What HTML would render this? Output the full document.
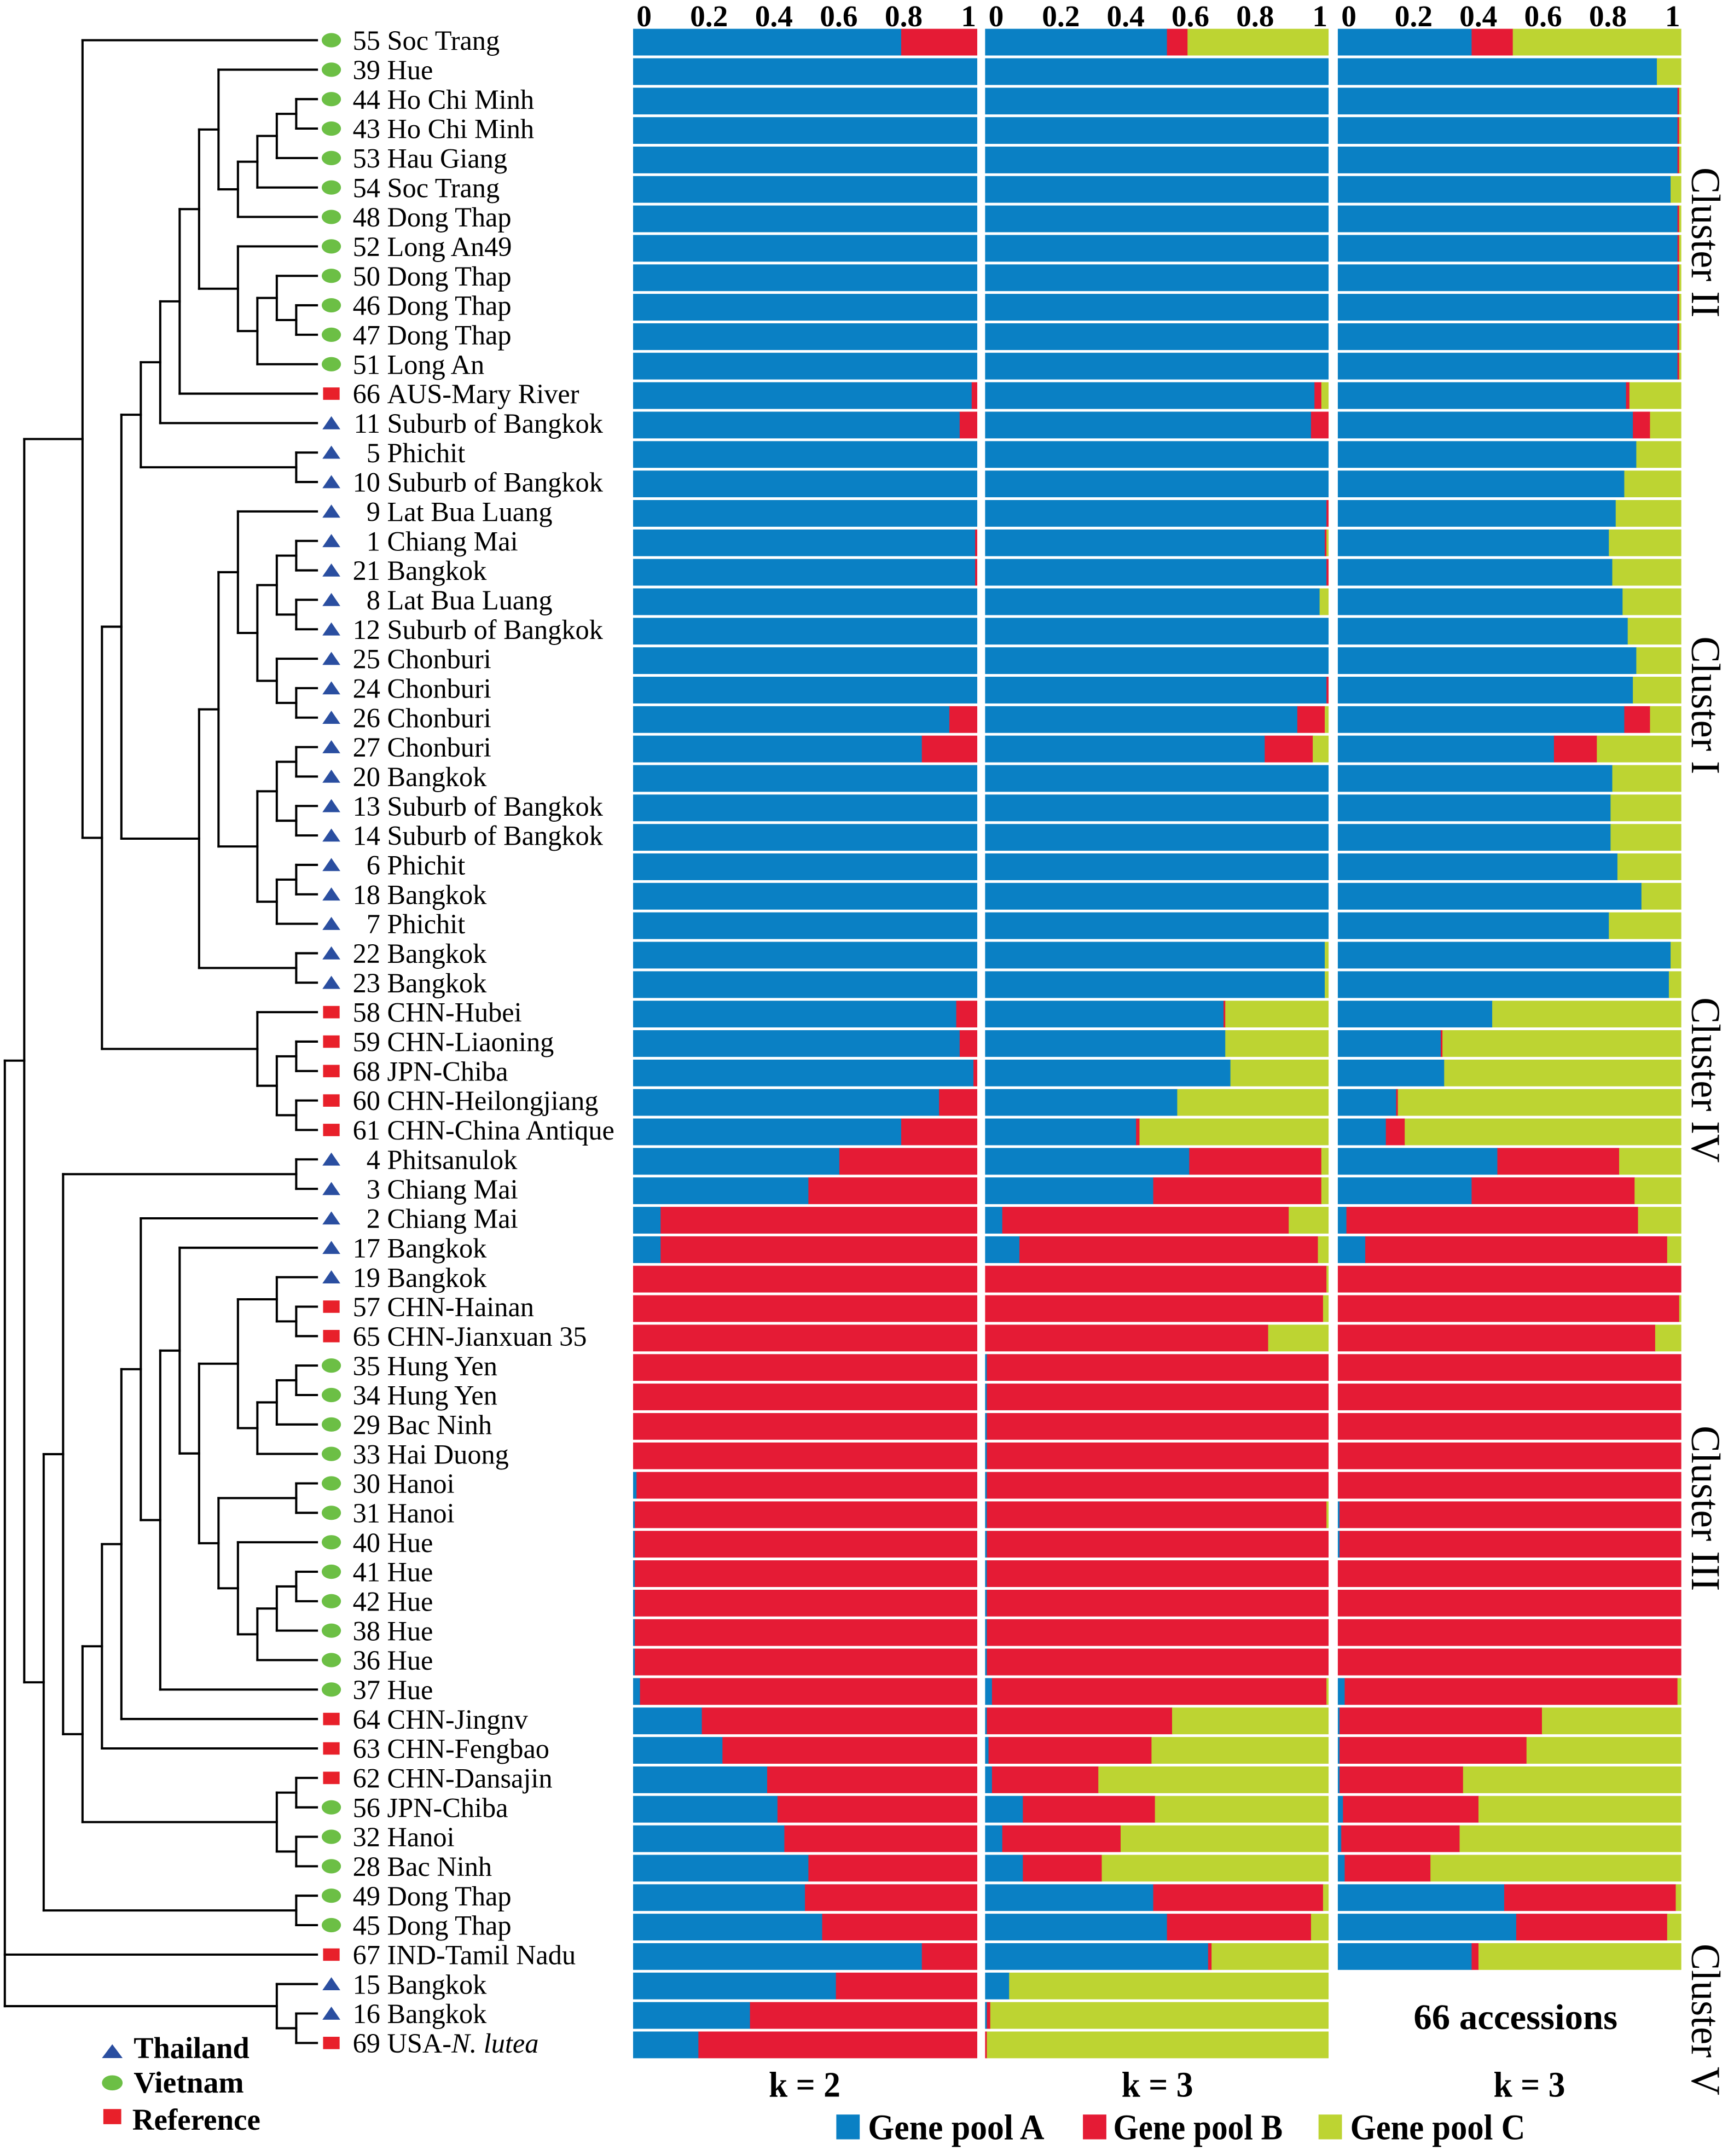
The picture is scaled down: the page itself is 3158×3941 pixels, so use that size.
<!DOCTYPE html>
<html><head><meta charset="utf-8"><title>Dendrogram and STRUCTURE plots</title>
<style>html,body{margin:0;padding:0;background:#fff}svg{display:block}</style></head>
<body>
<svg id="chart" xmlns="http://www.w3.org/2000/svg" width="3158" height="3941" viewBox="0 0 1254.2 1565.1" preserveAspectRatio="none">
<rect x="0" y="0" width="1254.2" height="1565.1" fill="#fff"/>
<g id="dendro"></g>
<g id="markers"></g>
<g id="labels" font-family="'Liberation Serif', serif" font-size="20" fill="#000"></g>
<g id="bars"></g>
<g id="ticks" font-family="'Liberation Serif', serif" font-weight="bold" font-size="22" fill="#000"></g>
<g font-family="'Liberation Serif', serif" font-size="30" fill="#000">
<text transform="translate(1228,176) rotate(90)" text-anchor="middle" textLength="109" lengthAdjust="spacingAndGlyphs">Cluster II</text>
<text transform="translate(1228,512) rotate(90)" text-anchor="middle" textLength="100" lengthAdjust="spacingAndGlyphs">Cluster I</text>
<text transform="translate(1228,784) rotate(90)" text-anchor="middle" textLength="120" lengthAdjust="spacingAndGlyphs">Cluster IV</text>
<text transform="translate(1228,1095) rotate(90)" text-anchor="middle" textLength="120" lengthAdjust="spacingAndGlyphs">Cluster III</text>
<text transform="translate(1228,1466) rotate(90)" text-anchor="middle" textLength="110" lengthAdjust="spacingAndGlyphs">Cluster V</text>
</g>
<g font-family="'Liberation Serif', serif" font-weight="bold" font-size="26" fill="#000">
<text x="584" y="1522" text-anchor="middle" textLength="52" lengthAdjust="spacingAndGlyphs">k = 2</text>
<text x="840" y="1522" text-anchor="middle" textLength="52" lengthAdjust="spacingAndGlyphs">k = 3</text>
<text x="1110" y="1522" text-anchor="middle" textLength="52" lengthAdjust="spacingAndGlyphs">k = 3</text>
<text x="1100" y="1473" text-anchor="middle" textLength="148" lengthAdjust="spacingAndGlyphs">66 accessions</text>
</g>
<g font-family="'Liberation Serif', serif" font-weight="bold" font-size="26" fill="#000">
<rect x="607" y="1535" width="17" height="18" fill="#0a80c4"/>
<text x="630" y="1553" textLength="128" lengthAdjust="spacingAndGlyphs">Gene pool A</text>
<rect x="786" y="1535" width="17" height="18" fill="#e51b35"/>
<text x="808" y="1553" textLength="123" lengthAdjust="spacingAndGlyphs">Gene pool B</text>
<rect x="957" y="1535" width="17" height="18" fill="#bdd432"/>
<text x="980" y="1553" textLength="127" lengthAdjust="spacingAndGlyphs">Gene pool C</text>
</g>
<g font-family="'Liberation Serif', serif" font-weight="bold" font-size="22" fill="#000">
<polygon points="74,1494 89,1494 81.5,1484" fill="#2a4ea0"/>
<text x="97" y="1494" textLength="84" lengthAdjust="spacingAndGlyphs">Thailand</text>
<ellipse cx="81.5" cy="1512" rx="7.5" ry="5.5" fill="#6cbf45"/>
<text x="97" y="1519" textLength="80" lengthAdjust="spacingAndGlyphs">Vietnam</text>
<rect x="75" y="1531" width="13" height="11" fill="#e8202a"/>
<text x="96" y="1546" textLength="93" lengthAdjust="spacingAndGlyphs">Reference</text>
</g>
</svg>
<script>
const rowIds = ["55","39","44","43","53","54","48","52","50","46","47","51","66","11","5","10","9","1","21","8","12","25","24","26","27","20","13","14","6","18","7","22","23","58","59","68","60","61","4","3","2","17","19","57","65","35","34","29","33","30","31","40","41","42","38","36","37","64","63","62","56","32","28","49","45","67","15","16","69"];
const rowNames = ["Soc Trang","Hue","Ho Chi Minh","Ho Chi Minh","Hau Giang","Soc Trang","Dong Thap","Long An49","Dong Thap","Dong Thap","Dong Thap","Long An","AUS-Mary River","Suburb of Bangkok","Phichit","Suburb of Bangkok","Lat Bua Luang","Chiang Mai","Bangkok","Lat Bua Luang","Suburb of Bangkok","Chonburi","Chonburi","Chonburi","Chonburi","Bangkok","Suburb of Bangkok","Suburb of Bangkok","Phichit","Bangkok","Phichit","Bangkok","Bangkok","CHN-Hubei","CHN-Liaoning","JPN-Chiba","CHN-Heilongjiang","CHN-China Antique","Phitsanulok","Chiang Mai","Chiang Mai","Bangkok","Bangkok","CHN-Hainan","CHN-Jianxuan 35","Hung Yen","Hung Yen","Bac Ninh","Hai Duong","Hanoi","Hanoi","Hue","Hue","Hue","Hue","Hue","Hue","CHN-Jingnv","CHN-Fengbao","CHN-Dansajin","JPN-Chiba","Hanoi","Bac Ninh","Dong Thap","Dong Thap","IND-Tamil Nadu","Bangkok","Bangkok","USA-N. lutea"];
const rowTypes = ["V","V","V","V","V","V","V","V","V","V","V","V","R","T","T","T","T","T","T","T","T","T","T","T","T","T","T","T","T","T","T","T","T","R","R","R","R","R","T","T","T","T","T","R","R","V","V","V","V","V","V","V","V","V","V","V","V","R","R","R","V","V","V","V","V","R","T","T","R"];
// k = 2 : proportion of gene pool A (rest is B)
const k2A = [0.78,1,1,1,1,1,1,1,1,1,1,1,0.985,0.95,1,1,1,0.995,0.995,1,1,1,1,0.92,0.84,1,1,1,1,1,1,1,1,0.94,0.95,0.99,0.89,0.78,0.60,0.51,0.08,0.08,0,0,0,0,0,0,0,0.01,0.005,0.005,0.005,0.005,0.005,0.005,0.02,0.20,0.26,0.39,0.42,0.44,0.51,0.50,0.55,0.84,0.59,0.34,0.19];
// k = 3 (69 accessions): A, B (rest is C)
const k3A = [0.53,1,1,1,1,1,1,1,1,1,1,1,0.96,0.95,1,1,0.995,0.99,0.995,0.975,1,1,0.995,0.91,0.815,1,1,1,1,1,1,0.99,0.99,0.695,0.70,0.715,0.56,0.44,0.595,0.49,0.05,0.10,0,0,0,0.005,0.005,0.005,0.005,0.005,0.005,0.005,0.005,0.005,0.005,0.005,0.02,0.005,0.01,0.02,0.11,0.05,0.11,0.49,0.53,0.65,0.07,0.005,0];
const k3B = [0.06,0,0,0,0,0,0,0,0,0,0,0,0.02,0.05,0,0,0.005,0.005,0.005,0,0,0,0.005,0.08,0.14,0,0,0,0,0,0,0,0,0.005,0,0,0,0.01,0.385,0.49,0.835,0.87,0.995,0.985,0.825,0.995,0.995,0.995,0.995,0.995,0.99,0.995,0.995,0.995,0.995,0.995,0.975,0.54,0.475,0.31,0.385,0.345,0.23,0.495,0.42,0.01,0,0.01,0.005];
// k = 3 (66 accessions): A, B (rest is C)
const k3bA = [0.39,0.93,0.99,0.99,0.99,0.97,0.99,0.99,0.99,0.99,0.99,0.99,0.84,0.86,0.87,0.835,0.81,0.79,0.80,0.83,0.845,0.87,0.86,0.835,0.63,0.80,0.795,0.795,0.815,0.885,0.79,0.97,0.965,0.45,0.30,0.31,0.17,0.14,0.465,0.39,0.025,0.08,0,0,0,0,0,0,0,0,0.005,0.005,0,0,0,0,0.02,0.005,0.005,0.005,0.015,0.01,0.02,0.485,0.52,0.39];
const k3bB = [0.12,0,0.005,0.005,0.005,0,0.005,0.005,0.005,0.005,0.005,0.005,0.01,0.05,0,0,0,0,0,0,0,0,0,0.075,0.125,0,0,0,0,0,0,0,0,0,0.005,0,0.005,0.055,0.355,0.475,0.85,0.88,1,0.995,0.925,1,1,1,1,1,0.995,0.995,1,1,1,1,0.97,0.59,0.545,0.36,0.395,0.345,0.25,0.50,0.44,0.02];
const tickLabels = ["0","0.2","0.4","0.6","0.8","1"];
const tickValues = [0,0.2,0.4,0.6,0.8,1];

const NS = "http://www.w3.org/2000/svg";
function mk(tag, attrs, parent){ const e=document.createElementNS(NS,tag); for(const k in attrs) e.setAttribute(k,attrs[k]); parent.appendChild(e); return e; }
const rowY = i => 29.2 + i*21.38;
const levelX = L => 3.5 + 14.1*L;
const LEAF_X = 230;
const COL = {A:"#0a80c4", B:"#e51b35", C:"#bdd432"};

const A_ = [11,1,[12,[13,[14,[15,2,3],4],5],6]];
const B_ = [12,7,[13,[14,8,[15,9,10]],11]];
const T1 = [4,0,[5,[6,[7,[8,[9,[10,A_,B_],12],13],[15,14,15]],[10,[11,[12,16,[13,[14,[15,17,18],[15,19,20]],[14,21,[15,22,23]]]],[13,[14,[15,24,25],[15,26,27]],[14,[15,28,29],30]]],[15,31,32]]],[13,33,[14,[15,34,35],[15,36,37]]]]];
const C10 = [10,[12,[14,42,[15,43,44]],[13,[14,[15,45,46],47],48]],[11,[15,49,50],[12,51,[13,[14,[15,52,53],54],55]]]];
const L4b = [4,[5,[6,[7,40,[8,[9,41,C10],56]],57],58],[14,[15,59,60],[15,61,62]]];
const L2n = [2,[3,[15,38,39],L4b],[15,63,64]];
const ROOT = [0,[1,T1,L2n],65,[14,66,[15,67,68]]];

const dg = document.getElementById("dendro");
function drawNode(n){
  if (typeof n === "number") return {x:LEAF_X, y:rowY(n)};
  const x = levelX(n[0]);
  const kids = n.slice(1).map(drawNode);
  const ys = kids.map(k=>k.y);
  const y0 = Math.min(...ys), y1 = Math.max(...ys);
  const v = mk("line",{x1:x,x2:x,y1:y0,y2:y1,stroke:"#000","stroke-width":1.6,"stroke-linecap":"square"},dg);
  
  
  kids.forEach(k=>{
    const h = mk("line",{x1:x,x2:k.x,y1:k.y,y2:k.y,stroke:"#000","stroke-width":1.6,"stroke-linecap":"square"},dg);
    
    
  });
  return {x:x, y:(y0+y1)/2};
}
drawNode(ROOT);

const mg = document.getElementById("markers"), lg = document.getElementById("labels");
rowIds.forEach((id,i)=>{
  const y = rowY(i); let m;
  if (rowTypes[i]==="T") m = mk("polygon",{points:`${234},${y+4.5} ${247},${y+4.5} ${240.5},${y-5}`,fill:"#2a4ea0"},mg);
  else if (rowTypes[i]==="V") m = mk("ellipse",{cx:240.5,cy:y,rx:7,ry:5.2,fill:"#6cbf45"},mg);
  else m = mk("rect",{x:234.5,y:y-4.5,width:12,height:9,fill:"#e8202a"},mg);
  
  
  const num = mk("text",{x:276,y:y+7,"text-anchor":"end"},lg);
  num.textContent = id;
  
  
  const nm = mk("text",{x:281,y:y+7},lg);
  
  
  if (rowNames[i].indexOf("N. lutea")>=0){
    const t1 = mk("tspan",{},nm); t1.textContent="USA-";
    const t2 = mk("tspan",{"font-style":"italic"},nm); t2.textContent="N. lutea";
  } else nm.textContent = rowNames[i];
});

const bg = document.getElementById("bars"), tg = document.getElementById("ticks");
const panels = [{x0:459.5,w:249.5},{x0:715,w:249},{x0:971,w:249}];
function sx(p,v){ return panels[p].x0 + v*panels[p].w; }
function seg(p,i,a,b,c,name){
  if (b-a<=0.0001) return;
  const r = mk("rect",{x:sx(p,a),y:rowY(i)-8.3,width:sx(p,b)-sx(p,a)+0.3,height:19.4,fill:c},bg);
  
  
}
k2A.forEach((a,i)=>{ seg(0,i,0,a,COL.A,'bar-pool-a'); seg(0,i,a,1,COL.B,'bar-pool-b'); });
k3A.forEach((a,i)=>{ const b=k3B[i]; seg(1,i,0,a,COL.A,'bar-pool-a'); seg(1,i,a,Math.min(1,a+b),COL.B,'bar-pool-b'); seg(1,i,Math.min(1,a+b),1,COL.C,'bar-pool-c'); });
k3bA.forEach((a,i)=>{ const b=k3bB[i]; seg(2,i,0,a,COL.A,'bar-pool-a'); seg(2,i,a,Math.min(1,a+b),COL.B,'bar-pool-b'); seg(2,i,Math.min(1,a+b),1,COL.C,'bar-pool-c'); });

panels.forEach((p,pi)=>{
  tickValues.forEach((v,j)=>{
    const t = mk("text",{x:p.x0+8+v*(p.w-14),y:19,"text-anchor":"middle"},tg);
    t.textContent = tickLabels[j];
    
    
  });
});
</script>
</body></html>
